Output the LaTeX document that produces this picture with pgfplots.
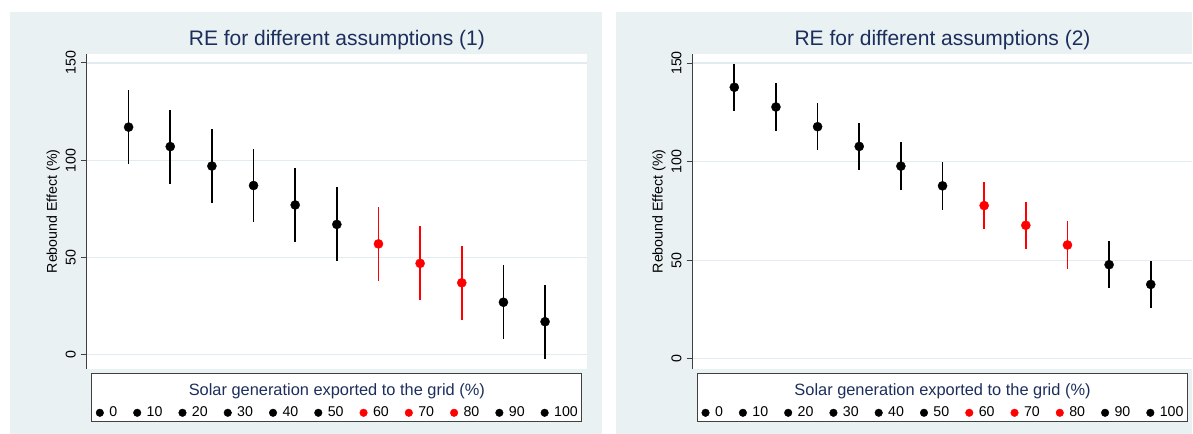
\documentclass[border=0pt]{standalone}
\usepackage{pgfplots}
\pgfplotsset{compat=1.18}
\usepackage{fontspec}
\setmainfont{Liberation Sans}
\definecolor{bgc}{RGB}{234,241,243}
\definecolor{gridc}{RGB}{226,235,239}
\definecolor{navyc}{RGB}{28,46,92}
\definecolor{axc}{RGB}{64,64,64}
\definecolor{dotblack}{RGB}{0,0,0}
\definecolor{dotred}{RGB}{255,0,0}
\newcommand\fsz[1]{\fontsize{#1bp}{#1bp}\selectfont}
\pgfplotsset{
  panel/.style={
    scale only axis, width=500bp, height=315bp,
    anchor=south west,
    xmin=-10, xmax=110, ymax=154.6,
    axis x line=none, axis y line*=left,
    y axis line style={axc, line width=1bp},
    axis background/.style={fill=white},
    ytick={0,50,100,150},
    tick align=outside, major tick length=6bp,
    ytick style={axc, line width=1bp},
    ymajorgrids, major grid style={gridc, line width=1.2bp},
    /pgf/number format/assume math mode=true,
    yticklabel style={rotate=90, anchor=south, inner sep=0pt, font=\fsz{14.2}, text=black},
    yticklabel shift=5bp,
    legend columns=11,
    legend image code/.code={\fill (0bp,0bp) circle (3.8bp);},
    legend style={at={(0.5,-0.1397)}, anchor=center, draw=none, fill=none,
      font=\fsz{14.2}, inner sep=0pt, nodes={inner sep=0pt, text=black},
      /tikz/every odd column/.append style={column sep=5.5bp},
      /tikz/every even column/.append style={column sep=16bp}},
  },
  pt/.style={color=#1, only marks, mark=*, mark size=4.6bp,
    mark options={line width=0.3bp},
    error bars/.cd, y dir=both, y explicit, error mark=none,
    error bar style={line width=1.7bp, #1}},
}
\begin{document}
\begin{tikzpicture}
\begin{scope}[x=1bp,y=1bp]
\useasboundingbox (0,0) rectangle (1193,434);
\fill[bgc] (10,0) rectangle (602,422);
\fill[bgc] (616,0) rectangle (1193,422);
\draw[axc, line width=1bp, fill=white] (92,12) rectangle (582,60);
\draw[axc, line width=1bp, fill=white] (698,12) rectangle (1188,60);
\node[navyc, font=\fsz{21}, anchor=base, inner sep=0pt] at (337,388.3) {RE for different assumptions (1)};
\node[navyc, font=\fsz{21}, anchor=base, inner sep=0pt] at (943,388.3) {RE for different assumptions (2)};
\node[navyc, font=\fsz{16.4}, anchor=base, inner sep=0pt] at (337,38) {Solar generation exported to the grid (\%)};
\node[navyc, font=\fsz{16.4}, anchor=base, inner sep=0pt] at (943,38) {Solar generation exported to the grid (\%)};
\node[font=\fsz{14.2}, rotate=90, anchor=base, inner sep=0pt] at (57,222.5) {Rebound Effect (\%)};
\node[font=\fsz{14.2}, rotate=90, anchor=base, inner sep=0pt] at (663,222.5) {Rebound Effect (\%)};
\end{scope}

\begin{axis}[panel, at={(87bp,65bp)}, ymin=-7.2]
\addplot[pt=dotblack] coordinates {(0,117) +- (0,19)};
\addplot[pt=dotblack] coordinates {(10,107) +- (0,19)};
\addplot[pt=dotblack] coordinates {(20,97) +- (0,19)};
\addplot[pt=dotblack] coordinates {(30,87) +- (0,19)};
\addplot[pt=dotblack] coordinates {(40,77) +- (0,19)};
\addplot[pt=dotblack] coordinates {(50,67) +- (0,19)};
\addplot[pt=dotred] coordinates {(60,57) +- (0,19)};
\addplot[pt=dotred] coordinates {(70,47) +- (0,19)};
\addplot[pt=dotred] coordinates {(80,37) +- (0,19)};
\addplot[pt=dotblack] coordinates {(90,27) +- (0,19)};
\addplot[pt=dotblack] coordinates {(100,17) +- (0,19)};
\legend{0,10,20,30,40,50,60,70,80,90,100}
\end{axis}

\begin{axis}[panel, at={(693bp,65bp)}, ymin=-5.1]
\addplot[pt=dotblack] coordinates {(0,137.7) +- (0,12)};
\addplot[pt=dotblack] coordinates {(10,127.7) +- (0,12)};
\addplot[pt=dotblack] coordinates {(20,117.7) +- (0,12)};
\addplot[pt=dotblack] coordinates {(30,107.7) +- (0,12)};
\addplot[pt=dotblack] coordinates {(40,97.7) +- (0,12)};
\addplot[pt=dotblack] coordinates {(50,87.7) +- (0,12)};
\addplot[pt=dotred] coordinates {(60,77.7) +- (0,12)};
\addplot[pt=dotred] coordinates {(70,67.7) +- (0,12)};
\addplot[pt=dotred] coordinates {(80,57.7) +- (0,12)};
\addplot[pt=dotblack] coordinates {(90,47.7) +- (0,12)};
\addplot[pt=dotblack] coordinates {(100,37.7) +- (0,12)};
\legend{0,10,20,30,40,50,60,70,80,90,100}
\end{axis}
\end{tikzpicture}
\end{document}
